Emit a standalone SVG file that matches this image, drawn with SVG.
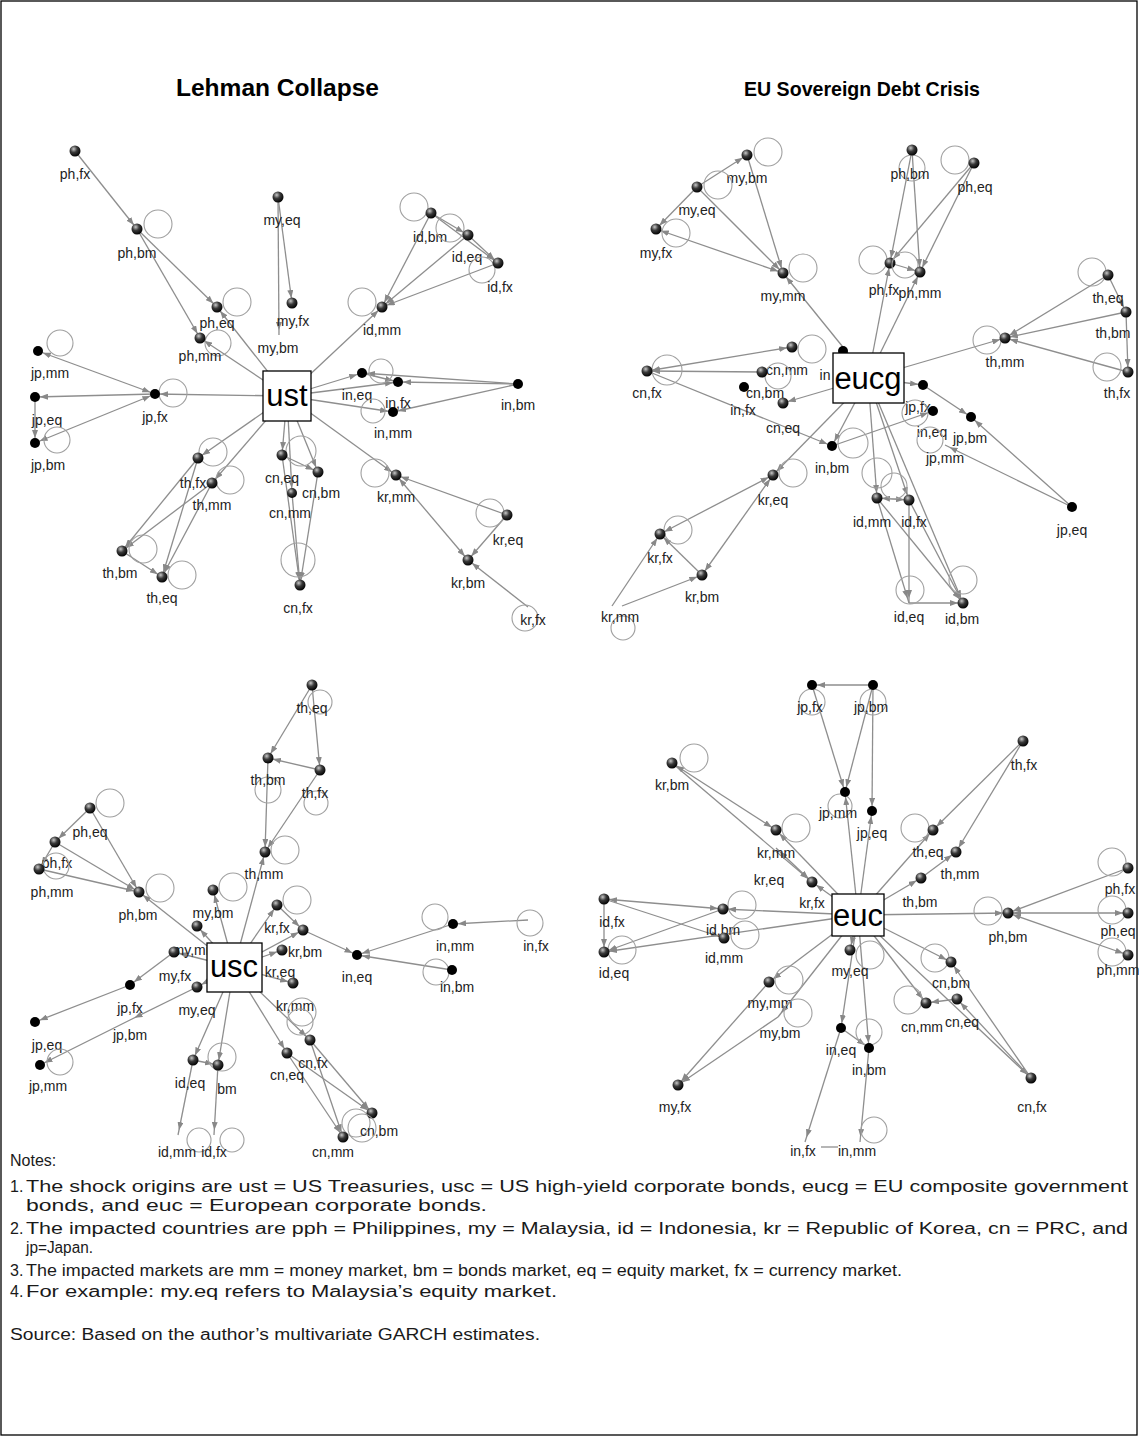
<svg xmlns="http://www.w3.org/2000/svg" width="1139" height="1437" viewBox="0 0 1139 1437">
<defs>
<radialGradient id="sp" cx="0.38" cy="0.32" r="0.7"><stop offset="0" stop-color="#c8c8c8"/><stop offset="0.45" stop-color="#3a3a3a"/><stop offset="1" stop-color="#000"/></radialGradient>
<marker id="a" markerWidth="8" markerHeight="6" refX="13" refY="3" orient="auto-start-reverse" markerUnits="userSpaceOnUse"><path d="M0,0 L8,3 L0,6 z" fill="#888"/></marker>
</defs>
<style>
.e{stroke:#8e8e8e;stroke-width:1.3;fill:none;marker-end:url(#a)}
.b{marker-start:url(#a)}
.p{stroke:#8e8e8e;stroke-width:1.3;fill:none}
.l{fill:none;stroke:#a0a0a0;stroke-width:1.1}
.s{fill:url(#sp)}
.f{fill:#000}
.n{font-family:"Liberation Sans",Arial,sans-serif;font-size:14px;fill:#222;text-anchor:middle}
.bx{fill:#fff;stroke:#000;stroke-width:1.3}
.bt{font-family:"Liberation Sans",Arial,sans-serif;font-size:31px;text-anchor:middle;fill:#000}
.t{font-family:"Liberation Sans",Arial,sans-serif;font-weight:bold;fill:#000}
.no{font-family:"Liberation Sans",Arial,sans-serif;font-size:16px;fill:#1a1a1a}
</style>
<rect x="1" y="1" width="1136" height="1434" fill="#fff" stroke="#000" stroke-width="1.3"/>
<text class="t" x="176" y="96" font-size="23" textLength="203" lengthAdjust="spacingAndGlyphs">Lehman Collapse</text>
<text class="t" x="744" y="96" font-size="21" textLength="236" lengthAdjust="spacingAndGlyphs">EU Sovereign Debt Crisis</text>

<g id="connectors">
<g id="edges-ust">
<line class="e" x1="75" y1="151" x2="137" y2="229"/>
<line class="e" x1="137" y1="229" x2="217" y2="307"/>
<line class="e" x1="137" y1="229" x2="200" y2="338"/>
<line class="e" x1="287" y1="396" x2="200" y2="338"/>
<line class="e" x1="287" y1="396" x2="217" y2="307"/>
<line class="e" x1="278" y1="197" x2="279" y2="335"/>
<line class="e" x1="278" y1="197" x2="292" y2="303"/>
<line class="e" x1="287" y1="396" x2="382" y2="307"/>
<line class="e" x1="431" y1="213" x2="382" y2="307"/>
<line class="e" x1="468" y1="235" x2="382" y2="307"/>
<line class="e" x1="498" y1="263" x2="382" y2="307"/>
<line class="e" x1="431" y1="213" x2="468" y2="235"/>
<line class="e" x1="468" y1="235" x2="498" y2="263"/>
<line class="e" x1="431" y1="213" x2="498" y2="263"/>
<line class="e" x1="287" y1="396" x2="155" y2="394"/>
<line class="e b" x1="155" y1="394" x2="38" y2="351"/>
<line class="e" x1="155" y1="394" x2="35" y2="397"/>
<line class="e b" x1="155" y1="394" x2="35" y2="443"/>
<line class="e" x1="35" y1="397" x2="35" y2="443"/>
<line class="e" x1="287" y1="396" x2="198" y2="458"/>
<line class="e" x1="287" y1="396" x2="212" y2="483"/>
<line class="e" x1="198" y1="458" x2="122" y2="551"/>
<line class="e" x1="212" y1="483" x2="122" y2="551"/>
<line class="e" x1="198" y1="458" x2="162" y2="577"/>
<line class="e" x1="212" y1="483" x2="162" y2="577"/>
<line class="e" x1="122" y1="551" x2="162" y2="577"/>
<line class="e" x1="287" y1="396" x2="362" y2="373"/>
<line class="e" x1="287" y1="396" x2="398" y2="382"/>
<line class="e" x1="287" y1="396" x2="393" y2="412"/>
<line class="e" x1="518" y1="384" x2="362" y2="373"/>
<line class="e" x1="518" y1="384" x2="398" y2="382"/>
<line class="e" x1="518" y1="384" x2="393" y2="412"/>
<line class="e" x1="362" y1="373" x2="398" y2="382"/>
<line class="e" x1="287" y1="396" x2="396" y2="475"/>
<line class="e" x1="507" y1="515" x2="396" y2="475"/>
<line class="e" x1="507" y1="515" x2="468" y2="560"/>
<line class="e b" x1="396" y1="475" x2="468" y2="560"/>
<line class="e" x1="528" y1="607" x2="468" y2="560"/>
<line class="e" x1="287" y1="396" x2="282" y2="455"/>
<line class="e" x1="287" y1="396" x2="318" y2="472"/>
<line class="e" x1="287" y1="396" x2="292" y2="493"/>
<line class="e" x1="282" y1="455" x2="318" y2="472"/>
<line class="e" x1="282" y1="455" x2="300" y2="585"/>
<line class="e" x1="292" y1="493" x2="300" y2="585"/>
<line class="e" x1="318" y1="472" x2="300" y2="585"/>
</g>
<g id="edges-eucg">
<line class="e" x1="697" y1="187" x2="747" y2="155"/>
<line class="e" x1="697" y1="187" x2="656" y2="229"/>
<line class="e" x1="747" y1="155" x2="783" y2="273"/>
<line class="e" x1="697" y1="187" x2="783" y2="273"/>
<line class="e b" x1="656" y1="229" x2="783" y2="273"/>
<line class="e" x1="868" y1="378" x2="783" y2="273"/>
<line class="e" x1="912" y1="150" x2="890" y2="263"/>
<line class="e" x1="912" y1="150" x2="920" y2="272"/>
<line class="e" x1="974" y1="163" x2="890" y2="263"/>
<line class="e" x1="974" y1="163" x2="920" y2="272"/>
<line class="e" x1="890" y1="263" x2="920" y2="272"/>
<line class="e" x1="868" y1="378" x2="890" y2="263"/>
<line class="e" x1="868" y1="378" x2="920" y2="272"/>
<line class="e" x1="868" y1="378" x2="1005" y2="338"/>
<line class="e" x1="1108" y1="275" x2="1005" y2="338"/>
<line class="e" x1="1126" y1="312" x2="1005" y2="338"/>
<line class="e" x1="1128" y1="372" x2="1005" y2="338"/>
<line class="e" x1="1108" y1="275" x2="1126" y2="312"/>
<line class="e" x1="1126" y1="312" x2="1128" y2="372"/>
<line class="e b" x1="647" y1="371" x2="792" y2="347"/>
<line class="e" x1="762" y1="372" x2="647" y2="371"/>
<line class="e" x1="647" y1="371" x2="832" y2="446"/>
<line class="e" x1="868" y1="378" x2="783" y2="403"/>
<line class="e" x1="868" y1="378" x2="832" y2="446"/>
<line class="e" x1="868" y1="378" x2="773" y2="475"/>
<line class="e b" x1="773" y1="475" x2="660" y2="534"/>
<line class="e b" x1="773" y1="475" x2="702" y2="575"/>
<line class="e" x1="702" y1="575" x2="660" y2="534"/>
<line class="e" x1="622" y1="606" x2="702" y2="575"/>
<line class="e" x1="612" y1="606" x2="660" y2="534"/>
<line class="e" x1="868" y1="378" x2="923" y2="385"/>
<line class="e" x1="923" y1="385" x2="971" y2="417"/>
<line class="e" x1="1072" y1="507" x2="971" y2="417"/>
<line class="e" x1="1072" y1="507" x2="945" y2="445"/>
<line class="e" x1="832" y1="446" x2="933" y2="411"/>
<line class="e" x1="868" y1="378" x2="877" y2="498"/>
<line class="e" x1="868" y1="378" x2="909" y2="500"/>
<line class="e b" x1="877" y1="498" x2="909" y2="500"/>
<line class="e" x1="877" y1="498" x2="909" y2="603"/>
<line class="e" x1="909" y1="500" x2="909" y2="603"/>
<line class="e" x1="909" y1="500" x2="963" y2="603"/>
<line class="e" x1="877" y1="498" x2="963" y2="603"/>
<line class="e" x1="909" y1="603" x2="963" y2="603"/>
<line class="e" x1="868" y1="378" x2="963" y2="603"/>
</g>
<g id="edges-usc">
<line class="e" x1="312" y1="685" x2="268" y2="758"/>
<line class="e" x1="312" y1="685" x2="320" y2="770"/>
<line class="e" x1="320" y1="770" x2="268" y2="758"/>
<line class="e" x1="268" y1="758" x2="265" y2="852"/>
<line class="e" x1="320" y1="770" x2="265" y2="852"/>
<line class="e" x1="234" y1="967" x2="265" y2="852"/>
<line class="e" x1="90" y1="808" x2="55" y2="842"/>
<line class="e" x1="90" y1="808" x2="139" y2="892"/>
<line class="e" x1="55" y1="842" x2="139" y2="892"/>
<line class="e" x1="39" y1="869" x2="139" y2="892"/>
<line class="e" x1="55" y1="842" x2="39" y2="869"/>
<line class="e" x1="234" y1="967" x2="139" y2="892"/>
<line class="e" x1="234" y1="967" x2="213" y2="890"/>
<line class="e" x1="234" y1="967" x2="197" y2="926"/>
<line class="e" x1="234" y1="967" x2="174" y2="952"/>
<line class="e" x1="234" y1="967" x2="197" y2="987"/>
<line class="e" x1="174" y1="952" x2="130" y2="985"/>
<line class="e" x1="197" y1="987" x2="130" y2="1020"/>
<line class="e" x1="130" y1="985" x2="35" y2="1022"/>
<line class="e" x1="130" y1="1020" x2="40" y2="1065"/>
<line class="e" x1="234" y1="967" x2="277" y2="905"/>
<line class="e" x1="234" y1="967" x2="303" y2="930"/>
<line class="e" x1="234" y1="967" x2="282" y2="950"/>
<line class="e" x1="234" y1="967" x2="293" y2="983"/>
<line class="e" x1="277" y1="905" x2="303" y2="930"/>
<line class="e" x1="303" y1="930" x2="357" y2="955"/>
<line class="e" x1="453" y1="924" x2="357" y2="955"/>
<line class="e" x1="452" y1="970" x2="357" y2="955"/>
<line class="e" x1="528" y1="920" x2="453" y2="924"/>
<line class="e" x1="234" y1="967" x2="193" y2="1060"/>
<line class="e" x1="234" y1="967" x2="218" y2="1065"/>
<line class="e" x1="193" y1="1060" x2="218" y2="1065"/>
<line class="e" x1="193" y1="1060" x2="178" y2="1135"/>
<line class="e" x1="218" y1="1065" x2="214" y2="1135"/>
<line class="e" x1="234" y1="967" x2="287" y2="1053"/>
<line class="e" x1="234" y1="967" x2="310" y2="1040"/>
<line class="e" x1="310" y1="1040" x2="372" y2="1113"/>
<line class="e" x1="287" y1="1053" x2="343" y2="1137"/>
<line class="e" x1="310" y1="1040" x2="343" y2="1137"/>
<line class="e" x1="287" y1="1053" x2="372" y2="1113"/>
</g>
<g id="edges-euc">
<line class="e" x1="873" y1="685" x2="812" y2="685"/>
<line class="e" x1="812" y1="685" x2="845" y2="792"/>
<line class="e" x1="873" y1="685" x2="845" y2="792"/>
<line class="e" x1="873" y1="685" x2="872" y2="811"/>
<line class="e" x1="858" y1="915" x2="845" y2="792"/>
<line class="e" x1="858" y1="915" x2="872" y2="811"/>
<line class="e" x1="1023" y1="741" x2="933" y2="830"/>
<line class="e" x1="1023" y1="741" x2="956" y2="852"/>
<line class="e" x1="858" y1="915" x2="933" y2="830"/>
<line class="e" x1="858" y1="915" x2="921" y2="878"/>
<line class="e" x1="921" y1="878" x2="956" y2="852"/>
<line class="e b" x1="672" y1="763" x2="776" y2="830"/>
<line class="e" x1="672" y1="763" x2="812" y2="882"/>
<line class="e" x1="858" y1="915" x2="776" y2="830"/>
<line class="e" x1="858" y1="915" x2="812" y2="882"/>
<line class="e b" x1="776" y1="848" x2="812" y2="882"/>
<line class="e" x1="858" y1="915" x2="723" y2="909"/>
<line class="e" x1="858" y1="915" x2="604" y2="952"/>
<line class="e b" x1="604" y1="899" x2="723" y2="909"/>
<line class="e" x1="604" y1="899" x2="724" y2="938"/>
<line class="e" x1="723" y1="909" x2="604" y2="952"/>
<line class="e" x1="604" y1="899" x2="604" y2="952"/>
<line class="e" x1="858" y1="915" x2="1008" y2="913"/>
<line class="e" x1="1128" y1="868" x2="1008" y2="913"/>
<line class="e b" x1="1008" y1="913" x2="1128" y2="913"/>
<line class="e b" x1="1008" y1="913" x2="1128" y2="955"/>
<line class="e" x1="858" y1="915" x2="951" y2="962"/>
<line class="e" x1="858" y1="915" x2="1031" y2="1078"/>
<line class="e" x1="1031" y1="1078" x2="951" y2="962"/>
<line class="e" x1="1031" y1="1078" x2="957" y2="999"/>
<line class="e" x1="957" y1="999" x2="926" y2="1003"/>
<line class="e" x1="858" y1="915" x2="926" y2="1003"/>
<line class="e" x1="858" y1="915" x2="769" y2="982"/>
<line class="e" x1="769" y1="982" x2="678" y2="1085"/>
<line class="e" x1="778" y1="1017" x2="678" y2="1085"/>
<line class="e" x1="858" y1="915" x2="778" y2="1017"/>
<line class="e" x1="858" y1="915" x2="850" y2="950"/>
<line class="e" x1="858" y1="915" x2="841" y2="1028"/>
<line class="e" x1="858" y1="915" x2="869" y2="1048"/>
<line class="e" x1="841" y1="1028" x2="869" y2="1048"/>
<line class="e" x1="841" y1="1028" x2="805" y2="1142"/>
<line class="e" x1="869" y1="1048" x2="860" y2="1142"/>
<line class="p" x1="821" y1="1147" x2="838" y2="1147"/>
</g>
</g>

<g id="panel-ust">
<g id="ust-ph-fx"><circle class="s" cx="75" cy="151" r="5.5"/><text class="n" x="75" y="179">ph,fx</text></g>
<g id="ust-ph-bm"><circle class="l" cx="158" cy="224" r="14"/><circle class="s" cx="137" cy="229" r="5.5"/><text class="n" x="137" y="258">ph,bm</text></g>
<g id="ust-ph-eq"><circle class="l" cx="237" cy="302" r="14"/><circle class="s" cx="217" cy="307" r="5.5"/><text class="n" x="217" y="328">ph,eq</text></g>
<g id="ust-ph-mm"><circle class="l" cx="218" cy="343" r="13"/><circle class="s" cx="200" cy="338" r="5.5"/><text class="n" x="200" y="361">ph,mm</text></g>
<g id="ust-my-eq"><circle class="s" cx="278" cy="197" r="5.5"/><text class="n" x="282" y="225">my,eq</text></g>
<g id="ust-my-fx"><circle class="s" cx="292" cy="303" r="5.5"/><text class="n" x="293" y="326">my,fx</text></g>
<g id="ust-my-bm"><text class="n" x="278" y="353">my,bm</text></g>
<g id="ust-id-bm"><circle class="l" cx="414" cy="207" r="14"/><circle class="s" cx="431" cy="213" r="5.5"/><text class="n" x="430" y="242">id,bm</text></g>
<g id="ust-id-eq"><circle class="l" cx="450" cy="228" r="14"/><circle class="s" cx="468" cy="235" r="5.5"/><text class="n" x="467" y="262">id,eq</text></g>
<g id="ust-id-fx"><circle class="l" cx="482" cy="270" r="13"/><circle class="s" cx="498" cy="263" r="5.5"/><text class="n" x="500" y="292">id,fx</text></g>
<g id="ust-id-mm"><circle class="l" cx="362" cy="302" r="14"/><circle class="s" cx="382" cy="307" r="5.5"/><text class="n" x="382" y="335">id,mm</text></g>
<g id="ust-jp-mm"><circle class="l" cx="60" cy="343" r="13"/><circle class="f" cx="38" cy="351" r="5"/><text class="n" x="50" y="378">jp,mm</text></g>
<g id="ust-jp-eq"><circle class="f" cx="35" cy="397" r="5"/><text class="n" x="47" y="425">jp,eq</text></g>
<g id="ust-jp-bm"><circle class="l" cx="57" cy="440" r="13"/><circle class="f" cx="35" cy="443" r="5"/><text class="n" x="48" y="470">jp,bm</text></g>
<g id="ust-jp-fx"><circle class="l" cx="173" cy="393" r="14"/><circle class="f" cx="155" cy="394" r="5"/><text class="n" x="155" y="422">jp,fx</text></g>
<g id="ust-th-fx"><circle class="l" cx="213" cy="452" r="14"/><circle class="s" cx="198" cy="458" r="5.5"/><text class="n" x="193" y="488">th,fx</text></g>
<g id="ust-th-mm"><circle class="l" cx="230" cy="480" r="14"/><circle class="s" cx="212" cy="483" r="5.5"/><text class="n" x="212" y="510">th,mm</text></g>
<g id="ust-th-bm"><circle class="l" cx="143" cy="549" r="14"/><circle class="s" cx="122" cy="551" r="5.5"/><text class="n" x="120" y="578">th,bm</text></g>
<g id="ust-th-eq"><circle class="l" cx="182" cy="575" r="14"/><circle class="s" cx="162" cy="577" r="5.5"/><text class="n" x="162" y="603">th,eq</text></g>
<g id="ust-in-eq"><circle class="l" cx="381" cy="371" r="12"/><circle class="f" cx="362" cy="373" r="5"/><text class="n" x="357" y="400">in,eq</text></g>
<g id="ust-in-fx"><circle class="f" cx="398" cy="382" r="5"/><text class="n" x="398" y="408">in,fx</text></g>
<g id="ust-in-mm"><circle class="l" cx="373" cy="411" r="12"/><circle class="f" cx="393" cy="412" r="5"/><text class="n" x="393" y="438">in,mm</text></g>
<g id="ust-in-bm"><circle class="f" cx="518" cy="384" r="5"/><text class="n" x="518" y="410">in,bm</text></g>
<g id="ust-kr-mm"><circle class="l" cx="375" cy="473" r="14"/><circle class="s" cx="396" cy="475" r="5.5"/><text class="n" x="396" y="502">kr,mm</text></g>
<g id="ust-kr-eq"><circle class="l" cx="490" cy="513" r="14"/><circle class="s" cx="507" cy="515" r="5.5"/><text class="n" x="508" y="545">kr,eq</text></g>
<g id="ust-kr-bm"><circle class="s" cx="468" cy="560" r="5.5"/><text class="n" x="468" y="588">kr,bm</text></g>
<g id="ust-kr-fx"><circle class="l" cx="525" cy="618" r="13"/><text class="n" x="533" y="625">kr,fx</text></g>
<g id="ust-cn-eq"><circle class="l" cx="301" cy="451" r="15"/><circle class="s" cx="282" cy="455" r="5.5"/><text class="n" x="282" y="483">cn,eq</text></g>
<g id="ust-cn-bm"><circle class="s" cx="318" cy="472" r="5.5"/><text class="n" x="321" y="498">cn,bm</text></g>
<g id="ust-cn-mm"><circle class="s" cx="292" cy="493" r="5"/><text class="n" x="290" y="518">cn,mm</text></g>
<g id="ust-cn-fx"><circle class="l" cx="298" cy="560" r="17"/><circle class="s" cx="300" cy="585" r="5.5"/><text class="n" x="298" y="613">cn,fx</text></g>
<g id="ust"><rect class="bx" x="263" y="371" width="48" height="50"/><text class="bt" x="287" y="406">ust</text></g>
</g>

<g id="panel-eucg">
<g id="eucg-my-bm"><circle class="l" cx="768" cy="152" r="14"/><circle class="s" cx="747" cy="155" r="5.5"/><text class="n" x="747" y="183">my,bm</text></g>
<g id="eucg-my-eq"><circle class="l" cx="718" cy="185" r="14"/><circle class="s" cx="697" cy="187" r="5.5"/><text class="n" x="697" y="215">my,eq</text></g>
<g id="eucg-my-fx"><circle class="l" cx="676" cy="233" r="14"/><circle class="s" cx="656" cy="229" r="5.5"/><text class="n" x="656" y="258">my,fx</text></g>
<g id="eucg-my-mm"><circle class="l" cx="803" cy="268" r="14"/><circle class="s" cx="783" cy="273" r="5.5"/><text class="n" x="783" y="301">my,mm</text></g>
<g id="eucg-ph-bm"><circle class="l" cx="912" cy="168" r="13"/><circle class="s" cx="912" cy="150" r="5.5"/><text class="n" x="910" y="179">ph,bm</text></g>
<g id="eucg-ph-eq"><circle class="l" cx="955" cy="160" r="14"/><circle class="s" cx="974" cy="163" r="5.5"/><text class="n" x="975" y="192">ph,eq</text></g>
<g id="eucg-ph-fx"><circle class="l" cx="873" cy="260" r="14"/><circle class="s" cx="890" cy="263" r="5.5"/><text class="n" x="884" y="295">ph,fx</text></g>
<g id="eucg-ph-mm"><circle class="l" cx="905" cy="265" r="13"/><circle class="s" cx="920" cy="272" r="5.5"/><text class="n" x="920" y="298">ph,mm</text></g>
<g id="eucg-th-eq"><circle class="l" cx="1092" cy="272" r="14"/><circle class="s" cx="1108" cy="275" r="5.5"/><text class="n" x="1108" y="303">th,eq</text></g>
<g id="eucg-th-bm"><circle class="s" cx="1126" cy="312" r="5.5"/><text class="n" x="1113" y="338">th,bm</text></g>
<g id="eucg-th-mm"><circle class="l" cx="987" cy="340" r="14"/><circle class="s" cx="1005" cy="338" r="5.5"/><text class="n" x="1005" y="367">th,mm</text></g>
<g id="eucg-th-fx"><circle class="l" cx="1107" cy="367" r="14"/><circle class="s" cx="1128" cy="372" r="5.5"/><text class="n" x="1117" y="398">th,fx</text></g>
<g id="eucg-cn-fx"><circle class="l" cx="667" cy="370" r="15"/><circle class="s" cx="647" cy="371" r="5.5"/><text class="n" x="647" y="398">cn,fx</text></g>
<g id="eucg-cn-mm"><circle class="l" cx="812" cy="349" r="14"/><circle class="s" cx="792" cy="347" r="5.5"/><text class="n" x="787" y="375">cn,mm</text></g>
<g id="eucg-in-mm"><circle class="f" cx="843" cy="351" r="5"/><text class="n" x="825" y="380">in</text></g>
<g id="eucg-cn-bm"><circle class="l" cx="778" cy="376" r="13"/><circle class="s" cx="762" cy="372" r="5.5"/><text class="n" x="765" y="398">cn,bm</text></g>
<g id="eucg-in-fx"><circle class="f" cx="744" cy="387" r="5"/><text class="n" x="743" y="415">in,fx</text></g>
<g id="eucg-cn-eq"><circle class="s" cx="783" cy="403" r="5.5"/><text class="n" x="783" y="433">cn,eq</text></g>
<g id="eucg-in-bm"><circle class="l" cx="853" cy="443" r="15"/><circle class="f" cx="832" cy="446" r="5"/><text class="n" x="832" y="473">in,bm</text></g>
<g id="eucg-kr-eq"><circle class="l" cx="793" cy="473" r="14"/><circle class="s" cx="773" cy="475" r="5.5"/><text class="n" x="773" y="505">kr,eq</text></g>
<g id="eucg-kr-fx"><circle class="l" cx="678" cy="530" r="14"/><circle class="s" cx="660" cy="534" r="5.5"/><text class="n" x="660" y="563">kr,fx</text></g>
<g id="eucg-kr-bm"><circle class="s" cx="702" cy="575" r="5.5"/><text class="n" x="702" y="602">kr,bm</text></g>
<g id="eucg-kr-mm"><circle class="l" cx="623" cy="628" r="12"/><text class="n" x="620" y="622">kr,mm</text></g>
<g id="eucg-jp-fx"><circle class="f" cx="923" cy="385" r="5"/><text class="n" x="918" y="412">jp,fx</text></g>
<g id="eucg-in-eq"><circle class="l" cx="915" cy="413" r="13"/><circle class="f" cx="933" cy="411" r="5"/><text class="n" x="932" y="437">in,eq</text></g>
<g id="eucg-jp-bm"><circle class="f" cx="971" cy="417" r="5"/><text class="n" x="970" y="443">jp,bm</text></g>
<g id="eucg-jp-mm"><circle class="l" cx="930" cy="440" r="13"/><text class="n" x="945" y="463">jp,mm</text></g>
<g id="eucg-jp-eq"><circle class="f" cx="1072" cy="507" r="5"/><text class="n" x="1072" y="535">jp,eq</text></g>
<g id="eucg-id-mm"><circle class="l" cx="877" cy="473" r="15"/><circle class="s" cx="877" cy="498" r="5.5"/><text class="n" x="872" y="527">id,mm</text></g>
<g id="eucg-id-fx"><circle class="l" cx="894" cy="486" r="13"/><circle class="s" cx="909" cy="500" r="5.5"/><text class="n" x="914" y="527">id,fx</text></g>
<g id="eucg-id-eq"><circle class="l" cx="910" cy="590" r="14"/><text class="n" x="909" y="622">id,eq</text></g>
<g id="eucg-id-bm"><circle class="l" cx="963" cy="580" r="14"/><circle class="s" cx="963" cy="603" r="5.5"/><text class="n" x="962" y="624">id,bm</text></g>
<g id="eucg"><rect class="bx" x="833" y="353" width="71" height="50"/><text class="bt" x="868" y="389">eucg</text></g>
</g>

<g id="panel-usc">
<g id="usc-th-eq"><circle class="l" cx="320" cy="702" r="12"/><circle class="s" cx="312" cy="685" r="5.5"/><text class="n" x="312" y="713">th,eq</text></g>
<g id="usc-th-bm"><circle class="l" cx="268" cy="790" r="13"/><circle class="s" cx="268" cy="758" r="5.5"/><text class="n" x="268" y="785">th,bm</text></g>
<g id="usc-th-fx"><circle class="l" cx="316" cy="803" r="12"/><circle class="s" cx="320" cy="770" r="5.5"/><text class="n" x="315" y="798">th,fx</text></g>
<g id="usc-th-mm"><circle class="l" cx="285" cy="850" r="14"/><circle class="s" cx="265" cy="852" r="5.5"/><text class="n" x="264" y="879">th,mm</text></g>
<g id="usc-ph-eq"><circle class="l" cx="110" cy="803" r="14"/><circle class="s" cx="90" cy="808" r="5.5"/><text class="n" x="90" y="837">ph,eq</text></g>
<g id="usc-ph-fx"><circle class="s" cx="55" cy="842" r="5.5"/><text class="n" x="57" y="868">ph,fx</text></g>
<g id="usc-ph-mm"><circle class="l" cx="56" cy="866" r="13"/><circle class="s" cx="39" cy="869" r="5.5"/><text class="n" x="52" y="897">ph,mm</text></g>
<g id="usc-ph-bm"><circle class="l" cx="160" cy="888" r="14"/><circle class="s" cx="139" cy="892" r="5.5"/><text class="n" x="138" y="920">ph,bm</text></g>
<g id="usc-my-bm"><circle class="l" cx="233" cy="887" r="14"/><circle class="s" cx="213" cy="890" r="5.5"/><text class="n" x="213" y="918">my,bm</text></g>
<g id="usc-my-mm"><circle class="s" cx="197" cy="926" r="5.5"/><text class="n" x="195" y="955">my,mm</text></g>
<g id="usc-my-fx"><circle class="s" cx="174" cy="952" r="5.5"/><text class="n" x="175" y="981">my,fx</text></g>
<g id="usc-my-eq"><circle class="s" cx="197" cy="987" r="5.5"/><text class="n" x="197" y="1015">my,eq</text></g>
<g id="usc-kr-fx"><circle class="l" cx="297" cy="900" r="14"/><circle class="s" cx="277" cy="905" r="5.5"/><text class="n" x="277" y="933">kr,fx</text></g>
<g id="usc-kr-bm"><circle class="s" cx="303" cy="930" r="5.5"/><text class="n" x="305" y="957">kr,bm</text></g>
<g id="usc-kr-eq"><circle class="s" cx="282" cy="950" r="5.5"/><text class="n" x="280" y="977">kr,eq</text></g>
<g id="usc-kr-mm"><circle class="l" cx="302" cy="1012" r="14"/><circle class="s" cx="293" cy="983" r="5.5"/><text class="n" x="295" y="1011">kr,mm</text></g>
<g id="usc-in-eq"><circle class="f" cx="357" cy="955" r="5"/><text class="n" x="357" y="982">in,eq</text></g>
<g id="usc-in-mm"><circle class="l" cx="435" cy="917" r="13"/><circle class="f" cx="453" cy="924" r="5"/><text class="n" x="455" y="951">in,mm</text></g>
<g id="usc-in-fx"><circle class="l" cx="530" cy="923" r="13"/><text class="n" x="536" y="951">in,fx</text></g>
<g id="usc-in-bm"><circle class="l" cx="436" cy="972" r="13"/><circle class="f" cx="452" cy="970" r="5"/><text class="n" x="457" y="992">in,bm</text></g>
<g id="usc-jp-fx"><circle class="f" cx="130" cy="985" r="5"/><text class="n" x="130" y="1013">jp,fx</text></g>
<g id="usc-jp-bm"><text class="n" x="130" y="1040">jp,bm</text></g>
<g id="usc-jp-eq"><circle class="f" cx="35" cy="1022" r="5"/><text class="n" x="47" y="1050">jp,eq</text></g>
<g id="usc-jp-mm"><circle class="l" cx="60" cy="1062" r="13"/><circle class="f" cx="40" cy="1065" r="5"/><text class="n" x="48" y="1091">jp,mm</text></g>
<g id="usc-id-eq"><circle class="s" cx="193" cy="1060" r="5.5"/><text class="n" x="190" y="1088">id,eq</text></g>
<g id="usc-id-bm"><circle class="l" cx="222" cy="1057" r="14"/><circle class="s" cx="218" cy="1065" r="5.5"/><text class="n" x="227" y="1094">bm</text></g>
<g id="usc-id-mm"><circle class="l" cx="199" cy="1140" r="12"/><text class="n" x="177" y="1157">id,mm</text></g>
<g id="usc-id-fx"><circle class="l" cx="232" cy="1140" r="12"/><text class="n" x="214" y="1157">id,fx</text></g>
<g id="usc-cn-fx"><circle class="l" cx="300" cy="1022" r="13"/><circle class="s" cx="310" cy="1040" r="5.5"/><text class="n" x="313" y="1068">cn,fx</text></g>
<g id="usc-cn-eq"><circle class="s" cx="287" cy="1053" r="5.5"/><text class="n" x="287" y="1080">cn,eq</text></g>
<g id="usc-cn-bm"><circle class="l" cx="356" cy="1123" r="14"/><circle class="s" cx="372" cy="1113" r="5.5"/><text class="n" x="379" y="1136">cn,bm</text></g>
<g id="usc-cn-mm"><circle class="l" cx="362" cy="1128" r="14"/><circle class="s" cx="343" cy="1137" r="5.5"/><text class="n" x="333" y="1157">cn,mm</text></g>
<g id="usc"><rect class="bx" x="207" y="943" width="55" height="49"/><text class="bt" x="234" y="977">usc</text></g>
</g>

<g id="panel-euc">
<g id="euc-jp-fx"><circle class="l" cx="812" cy="702" r="13"/><circle class="f" cx="812" cy="685" r="5"/><text class="n" x="810" y="712">jp,fx</text></g>
<g id="euc-jp-bm"><circle class="l" cx="873" cy="702" r="13"/><circle class="f" cx="873" cy="685" r="5"/><text class="n" x="871" y="712">jp,bm</text></g>
<g id="euc-jp-mm"><circle class="l" cx="840" cy="806" r="12"/><circle class="f" cx="845" cy="792" r="5"/><text class="n" x="838" y="818">jp,mm</text></g>
<g id="euc-jp-eq"><circle class="f" cx="872" cy="811" r="5"/><text class="n" x="872" y="838">jp,eq</text></g>
<g id="euc-th-fx"><circle class="s" cx="1023" cy="741" r="5.5"/><text class="n" x="1024" y="770">th,fx</text></g>
<g id="euc-th-eq"><circle class="l" cx="915" cy="828" r="14"/><circle class="s" cx="933" cy="830" r="5.5"/><text class="n" x="928" y="857">th,eq</text></g>
<g id="euc-th-mm"><circle class="s" cx="956" cy="852" r="5.5"/><text class="n" x="960" y="879">th,mm</text></g>
<g id="euc-th-bm"><circle class="s" cx="921" cy="878" r="5.5"/><text class="n" x="920" y="907">th,bm</text></g>
<g id="euc-kr-bm"><circle class="l" cx="694" cy="758" r="14"/><circle class="s" cx="672" cy="763" r="5.5"/><text class="n" x="672" y="790">kr,bm</text></g>
<g id="euc-kr-mm"><circle class="l" cx="796" cy="828" r="14"/><circle class="s" cx="776" cy="830" r="5.5"/><text class="n" x="776" y="858">kr,mm</text></g>
<g id="euc-kr-eq"><text class="n" x="769" y="885">kr,eq</text></g>
<g id="euc-kr-fx"><circle class="s" cx="812" cy="882" r="5.5"/><text class="n" x="812" y="908">kr,fx</text></g>
<g id="euc-id-fx"><circle class="s" cx="604" cy="899" r="5.5"/><text class="n" x="612" y="927">id,fx</text></g>
<g id="euc-id-eq"><circle class="l" cx="622" cy="950" r="14"/><circle class="s" cx="604" cy="952" r="5.5"/><text class="n" x="614" y="978">id,eq</text></g>
<g id="euc-id-bm"><circle class="l" cx="742" cy="905" r="14"/><circle class="s" cx="723" cy="909" r="5.5"/><text class="n" x="723" y="935">id,bm</text></g>
<g id="euc-id-mm"><circle class="l" cx="745" cy="935" r="14"/><circle class="s" cx="724" cy="938" r="5.5"/><text class="n" x="724" y="963">id,mm</text></g>
<g id="euc-ph-bm"><circle class="l" cx="988" cy="911" r="14"/><circle class="s" cx="1008" cy="913" r="5.5"/><text class="n" x="1008" y="942">ph,bm</text></g>
<g id="euc-ph-fx"><circle class="l" cx="1112" cy="862" r="14"/><circle class="s" cx="1128" cy="868" r="5.5"/><text class="n" x="1120" y="894">ph,fx</text></g>
<g id="euc-ph-eq"><circle class="l" cx="1112" cy="910" r="14"/><circle class="s" cx="1128" cy="913" r="5.5"/><text class="n" x="1118" y="936">ph,eq</text></g>
<g id="euc-ph-mm"><circle class="l" cx="1112" cy="952" r="14"/><circle class="s" cx="1128" cy="955" r="5.5"/><text class="n" x="1118" y="975">ph,mm</text></g>
<g id="euc-my-eq"><circle class="l" cx="870" cy="955" r="14"/><circle class="s" cx="850" cy="950" r="5.5"/><text class="n" x="850" y="976">my,eq</text></g>
<g id="euc-my-mm"><circle class="l" cx="789" cy="980" r="14"/><circle class="s" cx="769" cy="982" r="5.5"/><text class="n" x="770" y="1008">my,mm</text></g>
<g id="euc-my-bm"><circle class="l" cx="798" cy="1013" r="14"/><text class="n" x="780" y="1038">my,bm</text></g>
<g id="euc-my-fx"><circle class="s" cx="678" cy="1085" r="5.5"/><text class="n" x="675" y="1112">my,fx</text></g>
<g id="euc-in-eq"><circle class="f" cx="841" cy="1028" r="5"/><text class="n" x="841" y="1055">in,eq</text></g>
<g id="euc-in-bm"><circle class="l" cx="869" cy="1032" r="13"/><circle class="f" cx="869" cy="1048" r="5"/><text class="n" x="869" y="1075">in,bm</text></g>
<g id="euc-in-fx"><text class="n" x="803" y="1156">in,fx</text></g>
<g id="euc-in-mm"><circle class="l" cx="874" cy="1130" r="13"/><text class="n" x="857" y="1156">in,mm</text></g>
<g id="euc-cn-bm"><circle class="l" cx="935" cy="958" r="14"/><circle class="s" cx="951" cy="962" r="5.5"/><text class="n" x="951" y="988">cn,bm</text></g>
<g id="euc-cn-mm"><circle class="l" cx="908" cy="1000" r="14"/><circle class="s" cx="926" cy="1003" r="5.5"/><text class="n" x="922" y="1032">cn,mm</text></g>
<g id="euc-cn-eq"><circle class="s" cx="957" cy="999" r="5.5"/><text class="n" x="962" y="1027">cn,eq</text></g>
<g id="euc-cn-fx"><circle class="s" cx="1031" cy="1078" r="5.5"/><text class="n" x="1032" y="1112">cn,fx</text></g>
<g id="euc"><rect class="bx" x="832" y="894" width="52" height="42"/><text class="bt" x="858" y="926">euc</text></g>
</g>

<g id="notes">
<text class="no" x="10" y="1166">Notes:</text>
<text class="no" x="10" y="1192">1.</text>
<text class="no" x="26" y="1192" textLength="1102" lengthAdjust="spacingAndGlyphs">The shock origins are ust = US Treasuries, usc = US high-yield corporate bonds, eucg = EU composite government</text>
<text class="no" x="26" y="1211" textLength="461" lengthAdjust="spacingAndGlyphs">bonds, and euc = European corporate bonds.</text>
<text class="no" x="10" y="1234">2.</text>
<text class="no" x="26" y="1234" textLength="1102" lengthAdjust="spacingAndGlyphs">The impacted countries are pph = Philippines, my = Malaysia, id = Indonesia, kr = Republic of Korea, cn = PRC, and</text>
<text class="no" x="26" y="1253" textLength="67" lengthAdjust="spacingAndGlyphs">jp=Japan.</text>
<text class="no" x="10" y="1276">3.</text>
<text class="no" x="26" y="1276" textLength="876" lengthAdjust="spacingAndGlyphs">The impacted markets are mm = money market, bm = bonds market, eq = equity market, fx = currency market.</text>
<text class="no" x="10" y="1297">4.</text>
<text class="no" x="26" y="1297" textLength="531" lengthAdjust="spacingAndGlyphs">For example:  my.eq refers to Malaysia’s equity market.</text>
<text class="no" x="10" y="1340" textLength="530" lengthAdjust="spacingAndGlyphs">Source: Based on the author’s multivariate GARCH estimates.</text>
</g>
</svg>
